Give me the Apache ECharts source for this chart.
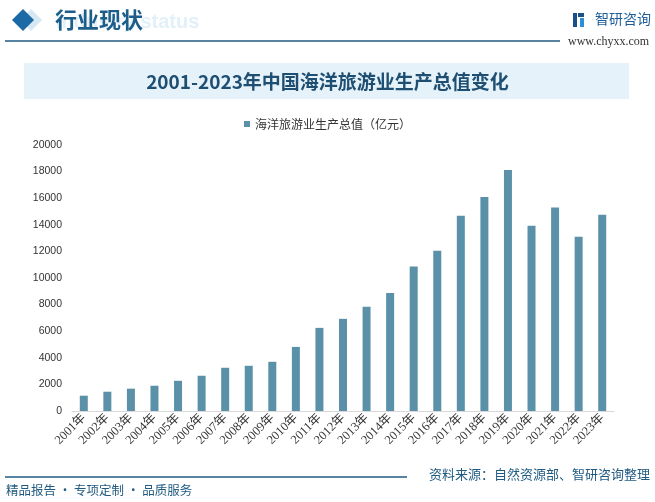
<!DOCTYPE html>
<html>
<head>
<meta charset="utf-8">
<script src="https://cdn.jsdelivr.net/npm/echarts@6/dist/echarts.min.js"></script>
<style>
html,body{margin:0;padding:0;background:#fff;}
#chart{width:655px;height:502px;}
</style>
</head>
<body>
<div id="chart"></div>
<script>
const categories = ["2001年","2002年","2003年","2004年","2005年","2006年","2007年","2008年","2009年","2010年","2011年","2012年","2013年","2014年","2015年","2016年","2017年","2018年","2019年","2020年","2021年","2022年","2023年"];
const seriesName = "海洋旅游业生产总值（亿元）";
const values = [1150,1450,1680,1900,2270,2650,3250,3400,3700,4820,6250,6930,7830,8880,10874,12051,14672,16098,18124,13924,15297,13096,14753];
const yTicks = {min:0, max:20000, interval:2000};
const titleText = "2001-2023年中国海洋旅游业生产总值变化";
const headerText = "行业现状";
const sourceText = "资料来源：自然资源部、智研咨询整理";
const sloganText = "精品报告 · 专项定制 · 品质服务";

const CJK = '"Noto Sans CJK SC","Microsoft YaHei",sans-serif';
const chart = echarts.init(document.getElementById('chart'), null, {renderer:'canvas'});
chart.setOption({
  backgroundColor:'#ffffff',
  animation:false,
  graphic:[
    {type:'text', left:56, top:12, z:1, style:{text:'Industry status', font:'bold 20px "Liberation Sans",Arial,sans-serif', fill:'#e2f0f9'}},
    {type:'polygon', shape:{points:[[31,9],[42,20],[31,31],[20,20]]}, style:{fill:'#d6e8f3'}, z:2},
    {type:'polygon', shape:{points:[[23,9],[34,20],[23,31],[12,20]]}, style:{fill:'#1b6aa5'}, z:3},
    {type:'text', left:55, top:9, z:4, style:{text:headerText, font:'bold 22px '+CJK, fill:'#1d5d8a'}},
    {type:'line', shape:{x1:5,y1:41,x2:560,y2:41}, style:{stroke:'#1f5a80', lineWidth:1.5}},
    {type:'rect', shape:{x:573,y:13,width:4,height:14}, style:{fill:'#1d4f8c'}},
    {type:'rect', shape:{x:578,y:13,width:6,height:4}, style:{fill:'#1d4f8c'}},
    {type:'rect', shape:{x:580,y:18,width:4,height:9}, style:{fill:'#2d8fd8'}},
    {type:'text', left:595, top:12, style:{text:'智研咨询', font:'14px '+CJK, fill:'#1d5d9a'}},
    {type:'text', left:568, top:36, style:{text:'www.chyxx.com', font:'12px "Liberation Serif",serif', fill:'#333'}},
    {type:'rect', shape:{x:24,y:63,width:605,height:36}, style:{fill:'#e6f2fa'}},
    {type:'text', left:'center', top:72, style:{text:titleText, font:'bold 19px '+CJK, fill:'#1e4f72'}},
    {type:'line', shape:{x1:5,y1:477,x2:407,y2:477}, style:{stroke:'#1f5a80', lineWidth:1.5}},
    {type:'text', right:5, top:468, style:{text:sourceText, font:'13px '+CJK, fill:'#1f5a80'}},
    {type:'text', left:6, top:484, style:{text:sloganText, font:'12.5px '+CJK, fill:'#1f5a80'}}
  ],
  legend:{
    top:113, left:'center', itemWidth:6, itemHeight:6, icon:'rect',
    textStyle:{fontSize:12, color:'#333', fontFamily:CJK},
    itemGap:4
  },
  grid:{left:72, right:41, top:145, bottom:91, containLabel:false},
  xAxis:{
    type:'category', data:categories,
    axisLine:{lineStyle:{color:'#d9d9d9'}},
    axisTick:{show:false},
    axisLabel:{rotate:45, interval:0, fontSize:12.5, color:'#333', fontFamily:'"Liberation Serif","Noto Sans CJK SC",serif', margin:5}
  },
  yAxis:{
    type:'value', min:yTicks.min, max:yTicks.max, interval:yTicks.interval,
    axisLine:{show:false}, axisTick:{show:false}, splitLine:{show:false},
    axisLabel:{fontSize:10.5, color:'#333', fontFamily:'"Liberation Sans",Arial,sans-serif', margin:10, formatter:function(v){return String(v);}}
  },
  series:[{
    name:seriesName, type:'bar', data:values, barWidth:8,
    itemStyle:{color:'#5b91a8'}
  }]
});
</script>
</body>
</html>
